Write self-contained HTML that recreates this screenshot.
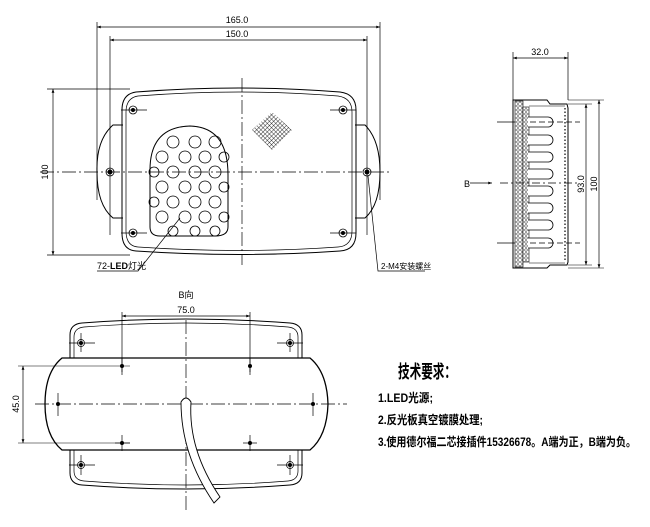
<!DOCTYPE html>
<html><head><meta charset="utf-8"><style>
html,body{margin:0;padding:0;background:#fff;width:650px;height:527px;overflow:hidden}
svg{display:block}
text{font-family:"Liberation Sans","Noto Sans CJK SC",sans-serif;fill:#000}
</style></head><body>
<svg width="650" height="527" viewBox="0 0 650 527" xmlns="http://www.w3.org/2000/svg">
<defs>
<marker id="a" viewBox="0 0 8 6" refX="8" refY="3" markerWidth="6" markerHeight="4" orient="auto-start-reverse"><path d="M0,0 L8,3 L0,6z" fill="#000"/></marker>
<pattern id="mesh" width="4" height="4" patternUnits="userSpaceOnUse"><rect width="4" height="4" fill="#fff"/><circle cx="2" cy="2" r="1.3" fill="none" stroke="#000" stroke-width="0.5"/></pattern>
<pattern id="grid" width="3" height="3" patternUnits="userSpaceOnUse" patternTransform="rotate(45)"><path d="M0,0H3M0,0V3" stroke="#000" stroke-width="0.8"/></pattern>
</defs>
<g fill="none" stroke="#000" stroke-width="1">
<line x1="97" y1="27" x2="380" y2="27" marker-start="url(#a)" marker-end="url(#a)" stroke-width="0.7"/>
<line x1="110" y1="40" x2="367" y2="40" marker-start="url(#a)" marker-end="url(#a)" stroke-width="0.7"/>
<line x1="97" y1="22" x2="97" y2="200" stroke-width="0.7"/>
<line x1="380" y1="22" x2="380" y2="200" stroke-width="0.7"/>
<line x1="110" y1="36" x2="110" y2="235" stroke-width="0.7"/>
<line x1="367" y1="36" x2="367" y2="235" stroke-width="0.7"/>
<line x1="47" y1="89" x2="130" y2="89" stroke-width="0.7"/>
<line x1="47" y1="255" x2="130" y2="255" stroke-width="0.7"/>
<line x1="53" y1="89" x2="53" y2="255" marker-start="url(#a)" marker-end="url(#a)" stroke-width="0.7"/>
<path d="M123,125 L113,125 Q96,140 97,172 Q97,205 113,218 L123,218"/>
<path d="M355,125 L365,125 Q380,140 380,172 Q380,205 365,218 L355,218"/>
<path d="M136,92 Q240,84 340,92 Q356,94 356,110 L356,233 Q356,250 340,251 Q240,258 136,251 Q122,250 122,233 L122,110 Q122,94 136,92 Z"/>
<path d="M138,96 Q240,88 338,96 Q352,98 352,112 L352,231 Q352,246 338,247 Q240,254 138,247 Q126,246 126,231 L126,112 Q126,98 138,96 Z" stroke-width="0.7"/>
<line x1="40" y1="172" x2="390" y2="172" stroke-dasharray="14,3,2,3" stroke-width="0.7"/>
<line x1="242" y1="78" x2="242" y2="265" stroke-dasharray="14,3,2,3" stroke-width="0.7"/>
<path d="M150,170 Q150,127 190,126 Q228,127 228,175 L228,227 Q228,236 215,236 L160,236 Q150,236 150,227 Z"/>
<g stroke-width="0.8">
<circle cx="173" cy="142" r="6"/><circle cx="195" cy="142" r="6"/><circle cx="215" cy="142" r="6"/>
<circle cx="162" cy="157" r="6"/><circle cx="185" cy="157" r="6"/><circle cx="205" cy="157" r="6"/><circle cx="224" cy="157" r="5"/>
<circle cx="173" cy="172" r="6"/><circle cx="195" cy="172" r="6"/><circle cx="215" cy="172" r="6"/><circle cx="154" cy="172" r="5"/>
<circle cx="162" cy="187" r="6"/><circle cx="185" cy="187" r="6"/><circle cx="205" cy="187" r="6"/><circle cx="224" cy="187" r="5"/>
<circle cx="173" cy="202" r="6"/><circle cx="195" cy="202" r="6"/><circle cx="215" cy="202" r="6"/><circle cx="154" cy="202" r="5"/>
<circle cx="162" cy="217" r="6"/><circle cx="185" cy="217" r="6"/><circle cx="205" cy="217" r="6"/><circle cx="224" cy="217" r="5"/>
<circle cx="173" cy="231" r="5"/><circle cx="195" cy="231" r="5"/><circle cx="215" cy="231" r="5"/>
</g>
<polygon points="272,112 292,130 272,150 252,130" fill="url(#grid)" stroke="none"/>
<g stroke-width="0.8">
<circle cx="133" cy="110" r="4"/><circle cx="343" cy="110" r="4"/><circle cx="133" cy="233" r="4"/><circle cx="343" cy="233" r="4"/>
<circle cx="110" cy="172" r="4"/><circle cx="367" cy="172" r="4"/>
<line x1="121" y1="110" x2="147" y2="110"/><line x1="330" y1="110" x2="356" y2="110"/>
<line x1="121" y1="233" x2="147" y2="233"/><line x1="330" y1="233" x2="356" y2="233"/>
</g>
<g fill="#000" stroke="none"><circle cx="133" cy="110" r="2"/><circle cx="343" cy="110" r="2"/><circle cx="133" cy="233" r="2"/><circle cx="343" cy="233" r="2"/><circle cx="110" cy="172" r="2.5"/><circle cx="367" cy="172" r="2.5"/></g>
<polyline points="97,271 138,271 180,218" stroke-width="0.7"/>
<polyline points="368,176 378,271 425,271" stroke-width="0.7"/>

<line x1="513" y1="58" x2="568" y2="58" marker-start="url(#a)" marker-end="url(#a)" stroke-width="0.7"/>
<line x1="513" y1="52" x2="513" y2="100" stroke-width="0.7"/>
<line x1="568" y1="52" x2="568" y2="100" stroke-width="0.7"/>
<path d="M513,100 L547,100 L550,104 L567,104 L568,108 L568,262 L567,265 L550,265 L547,268 L513,268 Z"/>
<rect x="515" y="101" width="8" height="166" fill="url(#mesh)" stroke-width="0.6"/>
<rect x="523" y="107" width="6" height="155" fill="url(#mesh)" stroke-width="0.6"/>
<line x1="565" y1="108" x2="565" y2="262" stroke-dasharray="1.5,2" stroke-width="1.2"/>
<line x1="529" y1="106" x2="565" y2="106" stroke-width="0.6"/>
<line x1="529" y1="263" x2="565" y2="263" stroke-width="0.6"/>
<g stroke-width="0.8" fill="#fff">
<path d="M528,117 L548,117 A5,5 0 0 1 548,127 L528,127"/>
<path d="M528,135 L548,135 A5,5 0 0 1 548,145 L528,145"/>
<path d="M528,152 L548,152 A5,5 0 0 1 548,162 L528,162"/>
<path d="M528,169 L548,169 A5,5 0 0 1 548,179 L528,179"/>
<path d="M528,186 L548,186 A5,5 0 0 1 548,196 L528,196"/>
<path d="M528,203 L548,203 A5,5 0 0 1 548,213 L528,213"/>
<path d="M528,220 L548,220 A5,5 0 0 1 548,230 L528,230"/>
<path d="M528,238 L548,238 A5,5 0 0 1 548,248 L528,248"/>
</g>
<line x1="497" y1="122" x2="515" y2="122" stroke-width="0.7"/>
<line x1="530" y1="122" x2="580" y2="122" stroke-dasharray="6,3" stroke-width="0.7"/>
<line x1="497" y1="243" x2="515" y2="243" stroke-width="0.7"/>
<line x1="530" y1="243" x2="580" y2="243" stroke-dasharray="6,3" stroke-width="0.7"/>
<line x1="500" y1="183" x2="580" y2="183" stroke-dasharray="8,3,2,3" stroke-width="0.7"/>
<line x1="470" y1="183" x2="492" y2="183" marker-end="url(#a)" stroke-width="0.7"/>
<line x1="568" y1="104" x2="592" y2="104" stroke-width="0.6"/>
<line x1="568" y1="265" x2="592" y2="265" stroke-width="0.6"/>
<line x1="586" y1="104" x2="586" y2="265" marker-start="url(#a)" marker-end="url(#a)" stroke-width="0.7"/>
<line x1="568" y1="100" x2="604" y2="100" stroke-width="0.6"/>
<line x1="568" y1="268" x2="604" y2="268" stroke-width="0.6"/>
<line x1="599" y1="100" x2="599" y2="268" marker-start="url(#a)" marker-end="url(#a)" stroke-width="0.7"/>

<line x1="122" y1="316" x2="250" y2="316" marker-start="url(#a)" marker-end="url(#a)" stroke-width="0.7"/>
<line x1="122" y1="312" x2="122" y2="372" stroke-width="0.7"/>
<line x1="250" y1="312" x2="250" y2="372" stroke-width="0.7"/>
<path d="M70,358 L70,335 Q70,324 82,323 Q186,315 290,323 Q302,324 302,335 L302,358"/>
<path d="M74,358 L74,337 Q74,328 84,327 Q186,319 288,327 Q298,328 298,337 L298,358" stroke-width="0.7"/>
<path d="M70,450 L70,473 Q70,484 82,485 Q186,493 290,485 Q302,484 302,473 L302,450"/>
<path d="M74,450 L74,471 Q74,480 84,481 Q186,489 288,481 Q298,480 298,471 L298,450" stroke-width="0.7"/>
<path d="M62,358 L310,358 Q327,372 328,404 Q327,436 310,450 L62,450 Q45,436 45,404 Q45,372 62,358 Z" stroke-width="1.3"/>
<line x1="35" y1="404" x2="347" y2="404" stroke-dasharray="14,3,2,3" stroke-width="0.7"/>
<line x1="186" y1="320" x2="186" y2="510" stroke-dasharray="14,3,2,3" stroke-width="0.7"/>
<line x1="18" y1="366" x2="130" y2="366" stroke-width="0.6"/>
<line x1="18" y1="443" x2="130" y2="443" stroke-width="0.6"/>
<line x1="23" y1="366" x2="23" y2="443" marker-start="url(#a)" marker-end="url(#a)" stroke-width="0.7"/>
<g stroke-width="0.7">
<circle cx="81" cy="343" r="3.5"/><circle cx="290" cy="343" r="3.5"/><circle cx="81" cy="465" r="3.5"/><circle cx="290" cy="465" r="3.5"/>
<line x1="69" y1="343" x2="95" y2="343"/><line x1="277" y1="343" x2="303" y2="343"/>
<line x1="69" y1="465" x2="95" y2="465"/><line x1="277" y1="465" x2="303" y2="465"/>
<line x1="81" y1="333" x2="81" y2="352"/><line x1="290" y1="333" x2="290" y2="352"/>
<line x1="81" y1="455" x2="81" y2="475"/><line x1="290" y1="455" x2="290" y2="475"/>
<line x1="122" y1="358" x2="122" y2="375"/><line x1="250" y1="358" x2="250" y2="375"/>
<line x1="122" y1="435" x2="122" y2="451"/><line x1="250" y1="435" x2="250" y2="451"/>
<line x1="115" y1="443" x2="130" y2="443"/><line x1="243" y1="443" x2="257" y2="443"/>
<line x1="58" y1="393" x2="58" y2="416"/><line x1="313" y1="393" x2="313" y2="416"/>
</g>
<g fill="#000" stroke="none">
<circle cx="81" cy="343" r="2"/><circle cx="290" cy="343" r="2"/><circle cx="81" cy="465" r="2"/><circle cx="290" cy="465" r="2"/>
<circle cx="122" cy="366" r="2"/><circle cx="250" cy="366" r="2"/><circle cx="122" cy="443" r="2"/><circle cx="250" cy="443" r="2"/>
<circle cx="58" cy="404" r="2"/><circle cx="313" cy="404" r="2"/>
</g>
<path d="M181,402 Q186,394 191,402 Q188,450 220,497 L214,503 Q181,455 181,402 Z" fill="#fff" stroke-width="0.9"/>
</g>
<g font-size="9">
<text x="237" y="23" text-anchor="middle">165.0</text>
<text x="237" y="37" text-anchor="middle">150.0</text>
<text x="540" y="55" text-anchor="middle">32.0</text>
<text x="186" y="313" text-anchor="middle">75.0</text>
<text x="186" y="298" text-anchor="middle">B向</text>
<text x="464" y="187">B</text>
<text transform="translate(48,172) rotate(-90)" text-anchor="middle">100</text>
<text transform="translate(584,184) rotate(-90)" text-anchor="middle">93.0</text>
<text transform="translate(597,184) rotate(-90)" text-anchor="middle">100</text>
<text transform="translate(19,404) rotate(-90)" text-anchor="middle">45.0</text>
<text x="97" y="269">72-<tspan font-weight="bold">LED</tspan>灯光</text>
<text x="381" y="269" font-size="8">2-M4安装螺丝</text>
</g>
<text x="398" y="378" font-size="18" font-weight="bold" textLength="58" lengthAdjust="spacingAndGlyphs">技术要求：</text>
<g font-weight="bold" font-size="12">
<text x="378" y="402" textLength="55" lengthAdjust="spacingAndGlyphs">1.LED光源;</text>
<text x="378" y="424" textLength="105" lengthAdjust="spacingAndGlyphs">2.反光板真空镀膜处理;</text>
<text x="378" y="446" textLength="258" lengthAdjust="spacingAndGlyphs">3.使用德尔福二芯接插件15326678。A端为正，B端为负。</text>
</g>
</svg>
</body></html>
